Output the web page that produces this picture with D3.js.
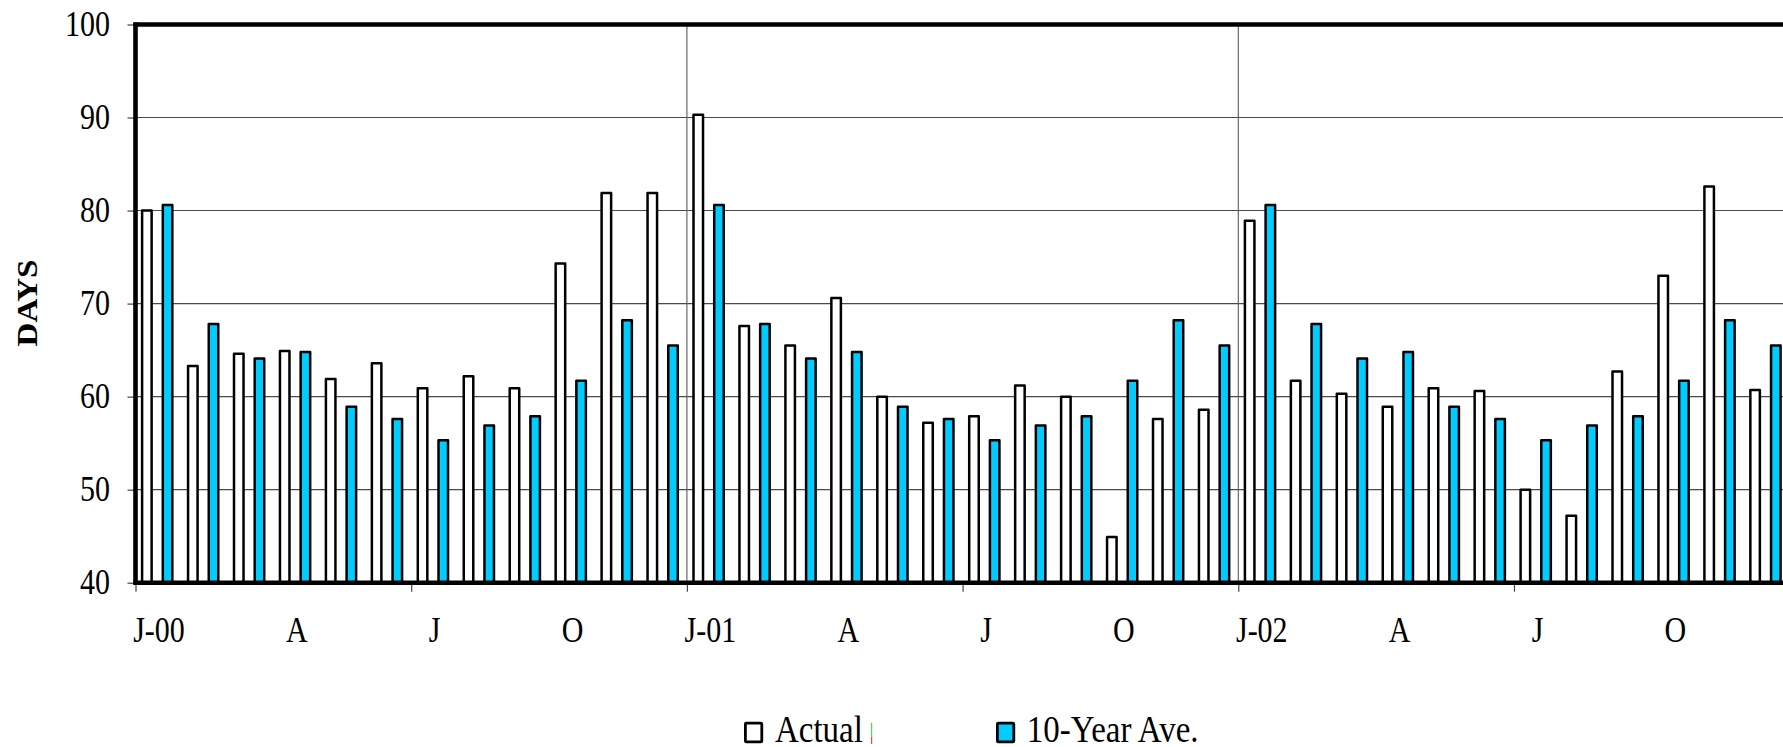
<!DOCTYPE html>
<html>
<head>
<meta charset="utf-8">
<script src="https://cdn.jsdelivr.net/npm/d3@7"></script>
<style>
  html, body { margin: 0; padding: 0; background: #fff; overflow: hidden; }
  svg { display: block; }
  text { font-family: "Liberation Serif", "Times New Roman", serif; fill: #000; }
</style>
</head>
<body>
<svg id="chart" width="1783" height="747"></svg>
<script>
// ---- data ----
const months = [
  "Jan-00","Feb-00","Mar-00","Apr-00","May-00","Jun-00","Jul-00","Aug-00","Sep-00","Oct-00","Nov-00","Dec-00",
  "Jan-01","Feb-01","Mar-01","Apr-01","May-01","Jun-01","Jul-01","Aug-01","Sep-01","Oct-01","Nov-01","Dec-01",
  "Jan-02","Feb-02","Mar-02","Apr-02","May-02","Jun-02","Jul-02","Aug-02","Sep-02","Oct-02","Nov-02","Dec-02"
];
const actual = [
  80.0, 63.3, 64.6, 64.9, 61.9, 63.6, 60.9, 62.2, 60.9, 74.3, 81.9, 81.9,
  90.3, 67.6, 65.5, 70.6, 60.0, 57.2, 57.9, 61.2, 60.0, 44.9, 57.6, 58.6,
  78.9, 61.7, 60.3, 58.9, 60.9, 60.6, 50.0, 47.2, 62.7, 73.0, 82.6, 60.7
];
const tenYearAve = [
  80.6, 67.8, 64.1, 64.8, 58.9, 57.6, 55.3, 56.9, 57.9, 61.7, 68.2, 65.5,
  80.6, 67.8, 64.1, 64.8, 58.9, 57.6, 55.3, 56.9, 57.9, 61.7, 68.2, 65.5,
  80.6, 67.8, 64.1, 64.8, 58.9, 57.6, 55.3, 56.9, 57.9, 61.7, 68.2, 65.5
];
const seriesNames = ["Actual", "10-Year Ave."];
const seriesColors = ["#FFFFFF", "#00CCFF"];
const xTickLabels = ["J-00","A","J","O","J-01","A","J","O","J-02","A","J","O"];
const xTickMonths = [0,3,6,9,12,15,18,21,24,27,30,33];
const yTicks = [40,50,60,70,80,90,100];
const yLabel = "DAYS";

// ---- layout ----
const plotLeft = 135.5, plotTop = 24.5, plotBottom = 582.7;
const monthW = 45.95;
const plotRight = plotLeft + months.length * monthW;
const FS = 30, SY = 1.17;

const svg = d3.select("#chart");

const y = d3.scaleLinear().domain([40, 100]).range([plotBottom, plotTop]);
const xm = d3.scaleLinear().domain([0, months.length]).range([plotLeft, plotRight]);
const xb = d3.scaleBand().domain(months).range([plotLeft, plotRight]).paddingInner(0).paddingOuter(0);
const xs = d3.scaleBand().domain(seriesNames).range([0, monthW])
  .paddingInner(0.54).paddingOuter(0.38).align(0.42);

// horizontal gridlines
svg.append("g").selectAll("line")
  .data(yTicks.filter(v => v > 40 && v < 100))
  .join("line")
  .attr("x1", plotLeft).attr("x2", plotRight)
  .attr("y1", d => y(d)).attr("y2", d => y(d))
  .attr("stroke", "#4a4a4a").attr("stroke-width", 1.1);

// vertical gridlines (yearly)
svg.append("g").selectAll("line")
  .data([12, 24, 36])
  .join("line")
  .attr("x1", d => xm(d)).attr("x2", d => xm(d))
  .attr("y1", plotTop).attr("y2", plotBottom)
  .attr("stroke", "#5a5a5a").attr("stroke-width", 1.1);

// y axis ticks + labels
const yAxis = d3.axisLeft(y).tickValues(yTicks).tickSize(8).tickPadding(0).tickFormat(d3.format("d"));
const gy = svg.append("g").attr("transform", `translate(${plotLeft},0)`).call(yAxis);
gy.select(".domain").remove();
gy.attr("font-family", null).attr("font-size", null);
gy.selectAll(".tick line").attr("stroke", "#444").attr("stroke-width", 1.2);
gy.selectAll(".tick text")
  .attr("x", null).attr("dy", null)
  .attr("text-anchor", "end")
  .style("font-family", '"Liberation Serif", serif')
  .style("font-size", FS + "px")
  .attr("transform", `translate(${110 - plotLeft},10.6) scale(1,${SY})`);

// x axis ticks (every 6 months)
const xAxis = d3.axisBottom(xm).tickValues(d3.range(0, 37, 6)).tickSize(9).tickFormat("");
const gx = svg.append("g").attr("transform", `translate(0,${plotBottom})`).call(xAxis);
gx.select(".domain").remove();
gx.selectAll(".tick line").attr("stroke", "#444").attr("stroke-width", 1.2);

// x labels (quarterly, centred on month)
const xLabAxis = d3.axisBottom(xm).tickValues(xTickMonths.map(m => m + 0.5)).tickSize(0)
  .tickFormat((d, i) => xTickLabels[i]);
const gxl = svg.append("g").attr("transform", `translate(0,${plotBottom})`).call(xLabAxis);
gxl.select(".domain").remove();
gxl.attr("font-family", null).attr("font-size", null);
gxl.selectAll(".tick text")
  .attr("y", null).attr("dy", null)
  .style("font-family", '"Liberation Serif", serif')
  .style("font-size", FS + "px")
  .attr("transform", `translate(0,${641.7 - plotBottom}) scale(1,${SY})`);

// bars
const rows = months.map((m, i) => ({ m, vals: [actual[i], tenYearAve[i]] }));
const barG = svg.append("g");
rows.forEach(r => {
  r.vals.forEach((v, si) => {
    barG.append("rect")
      .attr("x", xb(r.m) + xs(seriesNames[si]))
      .attr("width", xs.bandwidth())
      .attr("y", y(v))
      .attr("height", y(40) - y(v))
      .attr("fill", seriesColors[si])
      .attr("stroke", "#000")
      .attr("stroke-width", 2.5)
      .attr("stroke-linejoin", "round");
  });
});

// frame: top, left, bottom
svg.append("line").attr("x1", plotLeft - 2).attr("x2", plotRight).attr("y1", plotTop).attr("y2", plotTop)
  .attr("stroke", "#000").attr("stroke-width", 4.6);
svg.append("line").attr("x1", plotLeft).attr("x2", plotLeft).attr("y1", plotTop - 2).attr("y2", plotBottom + 2)
  .attr("stroke", "#000").attr("stroke-width", 4.6);
svg.append("line").attr("x1", plotLeft - 2).attr("x2", plotRight).attr("y1", plotBottom).attr("y2", plotBottom)
  .attr("stroke", "#000").attr("stroke-width", 4.6);

// y label
svg.append("text")
  .attr("transform", `translate(36.5,303) rotate(-90) scale(1.1,1)`)
  .attr("text-anchor", "middle")
  .style("font-size", "30px")
  .style("font-weight", "bold")
  .text(yLabel);

// legend
const legend = [
  { name: seriesNames[0], color: seriesColors[0], bx: 745.4, tx: 775 },
  { name: seriesNames[1], color: seriesColors[1], bx: 997.4, tx: 1026.7 }
];
const lg = svg.append("g");
legend.forEach(l => {
  lg.append("rect").attr("x", l.bx).attr("y", 723.1).attr("width", 16.4).attr("height", 18.8)
    .attr("fill", l.color).attr("stroke", "#000").attr("stroke-width", 2.8).attr("rx", 1);
  lg.append("text")
    .attr("transform", `translate(${l.tx},741.7) scale(1,1.12)`)
    .style("font-size", "33px")
    .text(l.name);
});
// small coloured mark after "Actual" as in the reference
lg.append("line").attr("x1", 871.7).attr("x2", 871.7).attr("y1", 722.7).attr("y2", 736.7)
  .attr("stroke", "#22dd22").attr("stroke-width", 1);
lg.append("line").attr("x1", 871.7).attr("x2", 871.7).attr("y1", 736.7).attr("y2", 744)
  .attr("stroke", "#dd2222").attr("stroke-width", 1);
</script>
</body>
</html>
